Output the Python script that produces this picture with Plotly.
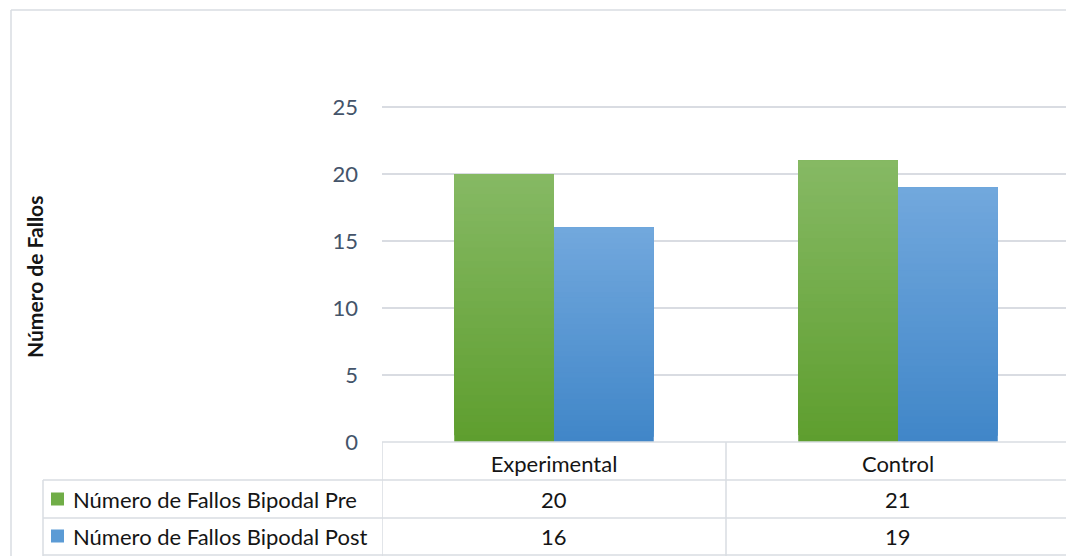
import plotly.graph_objects as go

# Chart data
categories = ["Experimental", "Control"]
series_names = ["Número de Fallos Bipodal Pre", "Número de Fallos Bipodal Post"]
pre_values = [20, 21]
post_values = [16, 19]
y_ticks = [0, 5, 10, 15, 20, 25]
y_title = "Número de Fallos"

W, H = 1066, 556
L, R, T, B = 382, 0, 100, 114
PW, PH = W - L - R, H - T - B
CAT_PX = 344  # pixel width of one category slot

FONT = "Lato"
GRID = "#d9dce2"
TEXT = "#151515"

# vertical gradient (top colour, bottom colour) for each series
gradients = [((134, 185, 100), (94, 158, 46)), ((114, 168, 221), (64, 134, 200))]
key_colors = ["#70ad47", "#5b9bd5"]
N_SLICES = 40


def px(x):
    return (x - L) / PW


def py(y):
    return (H - B - y) / PH


def mix(c1, c2, t):
    return "rgb({},{},{})".format(*[round(a + (b - a) * t) for a, b in zip(c1, c2)])


fig = go.Figure()
# each bar is painted as overlapping layers from its base up to its value,
# every layer starting a little higher, which yields a vertical gradient
for s, (name, vals) in enumerate(zip(series_names, [pre_values, post_values])):
    top, bottom = gradients[s]
    for k in range(N_SLICES):
        t = (k + 0.5) / N_SLICES
        fig.add_trace(go.Bar(
            x=categories,
            y=[v * (N_SLICES - k) / N_SLICES for v in vals],
            base=[v * k / N_SLICES for v in vals],
            offsetgroup=str(s),
            marker=dict(color=mix(bottom, top, t), line=dict(width=0)),
            name=name,
            showlegend=False,
            hoverinfo="skip",
        ))

shapes = []
line = dict(color=GRID, width=1.5)
# outer chart border
shapes.append(dict(type="line", xref="paper", yref="paper", x0=px(11), x1=px(W + 5), y0=py(10), y1=py(10), line=line))
shapes.append(dict(type="line", xref="paper", yref="paper", x0=px(11), x1=px(11), y0=py(10), y1=py(H + 5), line=line))

# data table grid
rows_y = [442, 480, 518, 555]
shapes.append(dict(type="line", xref="paper", yref="paper", x0=px(L), x1=px(W + 5), y0=py(442), y1=py(442), line=line))
for yy in rows_y[1:]:
    shapes.append(dict(type="line", xref="paper", yref="paper", x0=px(43), x1=px(W + 5), y0=py(yy), y1=py(yy), line=line))
shapes.append(dict(type="line", xref="paper", yref="paper", x0=px(43), x1=px(43), y0=py(480), y1=py(H + 5), line=line))
for xv in [-0.5, 0.5]:
    shapes.append(dict(type="line", xref="x", yref="paper", x0=xv, x1=xv, y0=py(442), y1=py(H + 5), line=line))

annotations = []
row_centers = [499, 536]
for s, name in enumerate(series_names):
    yc = row_centers[s]
    shapes.append(dict(type="rect", xref="paper", yref="paper", x0=px(51), x1=px(64),
                       y0=py(yc - 6.5), y1=py(yc + 6.5), fillcolor=key_colors[s], line=dict(width=0)))
    annotations.append(dict(text=name, xref="paper", yref="paper", x=px(71), y=py(yc),
                            xanchor="left", yanchor="middle", showarrow=False,
                            font=dict(family=FONT, size=22, color=TEXT)))
    for cat, v in zip(categories, [pre_values, post_values][s]):
        annotations.append(dict(text=str(v), xref="x", yref="paper", x=cat, y=py(yc),
                                xanchor="center", yanchor="middle", showarrow=False,
                                font=dict(family=FONT, size=22, color=TEXT)))

annotations.append(dict(text="<b>" + y_title + "</b>", xref="paper", yref="paper", x=px(34), y=py(277),
                        xanchor="center", yanchor="middle", textangle=-90, showarrow=False,
                        font=dict(family=FONT, size=21, color=TEXT)))

fig.update_layout(
    width=W, height=H,
    margin=dict(l=L, r=R, t=T, b=B, pad=0),
    paper_bgcolor="white", plot_bgcolor="white",
    barmode="group", bargap=0.42, bargroupgap=0,
    shapes=shapes, annotations=annotations,
    font=dict(family=FONT),
)
fig.update_xaxes(
    type="category", range=[-0.5, 1.5 - 4 / CAT_PX],
    showgrid=False, showline=False, zeroline=False,
    tickfont=dict(family=FONT, size=22, color=TEXT),
    ticks="", ticklabelstandoff=7,
)
fig.update_yaxes(
    range=[0, 25 + 7 / 13.4], tickvals=y_ticks,
    showgrid=True, gridcolor=GRID, gridwidth=1.5,
    zeroline=False, showline=False,
    tickfont=dict(family=FONT, size=22, color="#44546a"),
    ticks="", ticklabelstandoff=23,
)

fig.write_html("out.html")
